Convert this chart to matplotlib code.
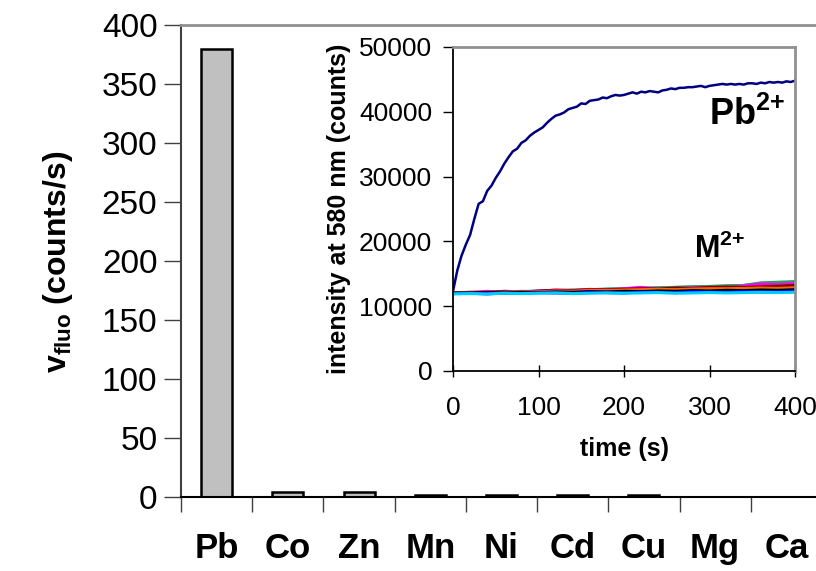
import matplotlib
matplotlib.use('Agg')
import matplotlib.pyplot as plt
from matplotlib.ticker import FixedLocator

plt.rcParams['font.family'] = ['Liberation Sans', 'DejaVu Sans']
plt.rcParams['mathtext.fontset'] = 'custom'
plt.rcParams['mathtext.rm'] = 'Liberation Sans'
plt.rcParams['mathtext.bf'] = 'Liberation Sans:bold'

# bar chart: initial fluorescence rate per metal ion
metals = ['Pb', 'Co', 'Zn', 'Mn', 'Ni', 'Cd', 'Cu', 'Mg', 'Ca']
v_fluo = [380, 4, 4, 1.5, 1.5, 1.5, 1.5, 0, 0]

# inset: Pb2+ kinetic trace, every 5 s
t_pb = list(range(0, 405, 5))
pb_trace = [12300, 15500, 17800, 19500, 21000, 23500, 25800, 26200, 27800, 28600,
            29800, 30800, 32000, 33000, 33900, 34300, 35200, 35600, 36300, 36800,
            37200, 37600, 38300, 38900, 39400, 39600, 39900, 40400, 40600, 40800,
            41300, 41200, 41700, 41800, 41900, 42200, 42100, 42400, 42600, 42500,
            42600, 42800, 43000, 42800, 43100, 43000, 43200, 43100, 43000, 43300,
            43400, 43600, 43500, 43700, 43700, 43800, 43800, 43900, 44000, 43800,
            44000, 44100, 44200, 44300, 44200, 44300, 44200, 44300, 44200, 44400,
            44400, 44300, 44500, 44400, 44600, 44500, 44600, 44500, 44700, 44600, 44800]

# inset: other M2+ traces, every 20 s
t_m = list(range(0, 420, 20))
m_traces = {
    'Mg': ([12000, 12100, 12050, 12200, 12300, 12250, 12400, 12500, 12450, 12600, 12700,
            12650, 12800, 12900, 12950, 13000, 13100, 13200, 13500, 13600, 13700], '#808080'),
    'Co': ([12000, 12050, 12150, 12200, 12250, 12300, 12400, 12450, 12550, 12650, 12700,
            12800, 12850, 12900, 13000, 13050, 13150, 13200, 13600, 13700, 13800], '#339966'),
    'Zn': ([12000, 12100, 12300, 12100, 12200, 12300, 12500, 12400, 12600, 12500, 12700,
            12900, 12600, 12700, 12800, 12900, 12800, 13100, 13400, 13300, 13500], '#ff00ff'),
    'Ni': ([12050, 12150, 12100, 12300, 12200, 12350, 12450, 12400, 12550, 12500, 12600,
            12700, 12650, 12800, 12750, 12900, 12950, 12900, 13000, 13100, 13200], '#800000'),
    'Mn': ([12000, 12100, 12050, 12150, 12250, 12200, 12350, 12300, 12450, 12400, 12500,
            12550, 12600, 12550, 12650, 12700, 12700, 12750, 12800, 12750, 12850], '#ff6600'),
    'Cd': ([12000, 12050, 12100, 12050, 12150, 12100, 12200, 12150, 12250, 12200, 12300,
            12250, 12350, 12300, 12400, 12350, 12450, 12400, 12500, 12450, 12550], '#000000'),
    'Cu': ([11950, 12000, 11900, 12050, 12000, 12100, 12050, 12000, 12150, 12100, 12050,
            12200, 12150, 12100, 12250, 12200, 12150, 12300, 12200, 12250, 12350], '#0000ff'),
    'Ca': ([11900, 11950, 11900, 12000, 11950, 12000, 12050, 11950, 12000, 12050, 12000,
            12050, 12100, 12000, 12050, 12100, 12050, 12100, 12150, 12100, 12150], '#00ccff'),
}

fig = plt.figure(figsize=(8.16, 5.71), dpi=100)

# main bar chart (axes runs past the right edge, like the cropped original)
ax = fig.add_axes([181/816, 74/571, 641/816, 472/571])
x = list(range(len(metals)))
ax.bar(x, v_fluo, width=0.435, color='#c0c0c0', edgecolor='black', linewidth=1.8, zorder=2)
ax.set_xlim(-0.5, len(metals) - 0.5)
ax.set_ylim(0, 400)
ax.set_yticks(range(0, 401, 50))
ax.set_xticks(x)
ax.set_xticklabels(metals, fontsize=25, fontweight='bold')
ax.xaxis.set_minor_locator(FixedLocator([i - 0.5 for i in range(len(metals) + 1)]))
ax.tick_params(axis='x', which='major', length=0, pad=25)
ax.tick_params(axis='x', which='minor', length=11, width=1, color='#404040', direction='out')
ax.tick_params(axis='y', length=12, width=1, color='#404040', labelsize=24, pad=5)
ax.spines['right'].set_visible(False)
ax.spines['top'].set_color('#909090')
ax.spines['top'].set_linewidth(2)
ax.spines['left'].set_color('#404040')
ax.spines['left'].set_linewidth(1.5)
ax.spines['bottom'].set_linewidth(1.5)
fig.text(58/816, 1 - 262/571, r'$\mathbf{v_{fluo}}$ (counts/s)', rotation=90,
         fontsize=23, fontweight='bold', ha='center', va='center')

# inset kinetics
axi = fig.add_axes([453/816, 200/571, 342/816, 324/571])
for name, (vals, col) in m_traces.items():
    axi.plot(t_m, vals, color=col, linewidth=2.2)
axi.plot(t_pb, pb_trace, color='#000080', linewidth=1.8)
axi.set_xlim(0, 400)
axi.set_ylim(0, 50000)
axi.set_xticks(range(0, 401, 100))
axi.set_yticks(range(0, 50001, 10000))
axi.tick_params(axis='x', direction='inout', length=8, width=1, labelsize=19, pad=14)
axi.tick_params(axis='y', direction='out', length=7, width=1, labelsize=19, pad=8)
axi.spines['top'].set_color('#909090')
axi.spines['right'].set_color('#909090')
axi.spines['top'].set_linewidth(2)
axi.spines['right'].set_linewidth(2)
axi.spines['left'].set_linewidth(1.3)
axi.spines['bottom'].set_linewidth(1.3)
axi.set_xlabel('time (s)', fontsize=18, fontweight='bold', labelpad=12)
axi.set_ylabel('intensity at 580 nm (counts)', fontsize=18, fontweight='bold', labelpad=6)
axi.text(0.97, 0.79, r'Pb$^{\mathbf{2{+}}}$', transform=axi.transAxes, fontsize=26,
         fontweight='bold', ha='right', va='center')
axi.text(0.855, 0.375, r'M$^{\mathbf{2{+}}}$', transform=axi.transAxes, fontsize=22,
         fontweight='bold', ha='right', va='center')

fig.savefig('out.png', dpi=100)
